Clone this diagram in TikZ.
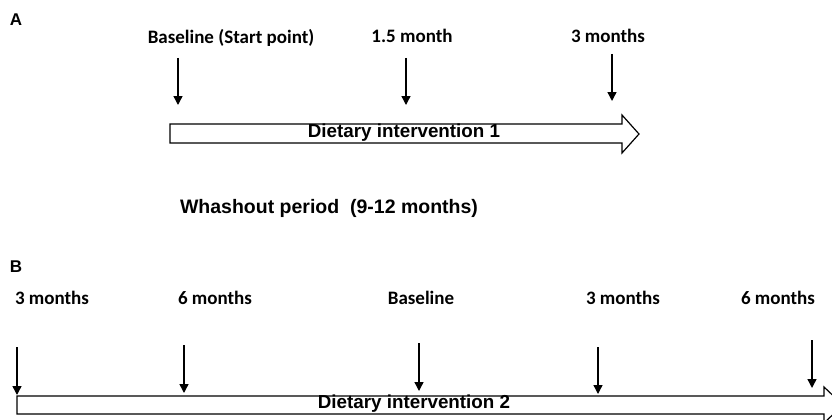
\documentclass[tikz,border=0pt]{standalone}
\usepackage{fontspec}
\setmainfont{Liberation Sans}
\newfontfamily\calib{Carlito}
\usetikzlibrary{arrows.meta}
\tikzset{
  lbl/.style={font=\calib\bfseries\fontsize{19}{21}\selectfont, inner sep=0pt},
  panel/.style={font=\bfseries\fontsize{17}{19}\selectfont, inner sep=0pt},
  bartext/.style={font=\bfseries\fontsize{18.8}{21}\selectfont, inner sep=0pt},
  tick/.style={line width=1.4pt, -{Triangle[length=9pt,width=9pt]}},
  bigarrow/.style={draw=black, line width=1.2pt, fill=white, line join=miter}
}
\begin{document}
\begin{tikzpicture}[x=1pt,y=-1pt]
\useasboundingbox (0,0) rectangle (832,420);
\clip (0,0) rectangle (832,420);
% Panel A
\node[panel] (A) at (16,20) {A};
\node[lbl] (la1) at (231,38) {Baseline (Start point)};
\node[lbl] (la2) at (412,36) {1.5 month};
\node[lbl] (la3) at (608,36) {3 months};
\coordinate (a1s) at (178,58); \coordinate (a1e) at (178,105);
\coordinate (a2s) at (406,58); \coordinate (a2e) at (406,105);
\coordinate (a3s) at (612,54); \coordinate (a3e) at (612,101);
\draw[tick] (a1s) -- (a1e);
\draw[tick] (a2s) -- (a2e);
\draw[tick] (a3s) -- (a3e);
\draw[bigarrow] (170,124) -- (622,124) -- (622,115) -- (639,134) -- (622,153) -- (622,143) -- (170,143) -- cycle;
\node[bartext] (ia) at (404,133) {Dietary intervention 1};
% Washout
\node[font=\bfseries\fontsize{19.5}{21}\selectfont, inner sep=0pt] (wash) at (329,208) {Whashout period\ \ (9-12 months)};
% Panel B
\node[panel] (B) at (16,267) {B};
\node[lbl] (lb1) at (52,298) {3 months};
\node[lbl] (lb2) at (215,298) {6 months};
\node[lbl] (lb3) at (421,298) {Baseline};
\node[lbl] (lb4) at (623,298) {3 months};
\node[lbl] (lb5) at (778,298) {6 months};
\coordinate (b1s) at (17,347); \coordinate (b1e) at (17,395);
\coordinate (b2s) at (184,345); \coordinate (b2e) at (184,393);
\coordinate (b3s) at (419,343); \coordinate (b3e) at (419,391);
\coordinate (b4s) at (598,347); \coordinate (b4e) at (598,394);
\coordinate (b5s) at (812,340); \coordinate (b5e) at (812,388);
\draw[tick] (b1s) -- (b1e);
\draw[tick] (b2s) -- (b2e);
\draw[tick] (b3s) -- (b3e);
\draw[tick] (b4s) -- (b4e);
\draw[tick] (b5s) -- (b5e);
\draw[bigarrow] (17,396) -- (824,396) -- (824,387) -- (843,405) -- (824,423) -- (824,414) -- (17,414) -- cycle;
\node[bartext] (ib) at (414,404) {Dietary intervention 2};
\end{tikzpicture}
\end{document}
